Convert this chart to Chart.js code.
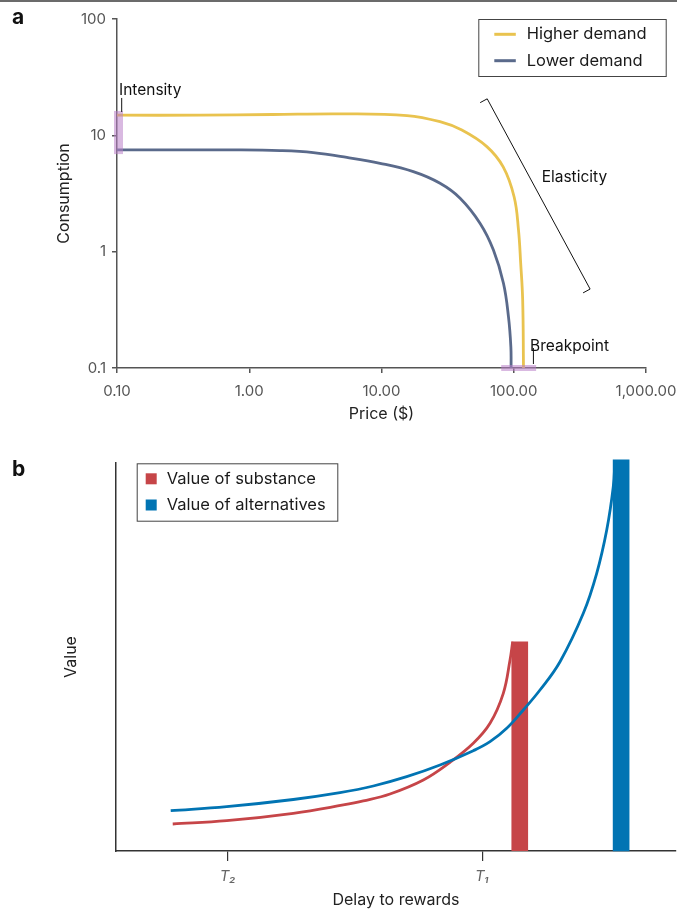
<!DOCTYPE html>
<html>
<head>
<meta charset="utf-8">
<script src="https://cdn.jsdelivr.net/npm/chart.js@4.4.1/dist/chart.umd.min.js"></script>
<style>
  body { margin: 0; background: #fff; }
  #fig { position: relative; width: 677px; height: 910px; overflow: hidden; font-family: Inter, 'Noto Sans', sans-serif; }
  #topRule { position: absolute; left: 0; top: 0; width: 677px; height: 2px; background: #6b6b6b; }
  .panel { position: absolute; left: 12px; font-size: 21px; font-weight: 700; line-height: 1; color: #111; }
  canvas { position: absolute; left: 0; }
</style>
</head>
<body>
<div id="fig">
  <div id="topRule"></div>
  <canvas id="demandChart" width="677" height="430" style="top:0"></canvas>
  <canvas id="delayChart" width="677" height="480" style="top:430px"></canvas>
  <div class="panel" style="top:6px">a</div>
  <div class="panel" style="top:458px">b</div>
</div>
<script>
// ---- panel a : demand curves (log price vs log consumption) ----
const priceHigh = [0.1, 0.43, 1.5, 4.9, 15.6, 27.7, 40.5, 62.6, 83.2, 100.7, 108.6, 112.8, 116.8, 118.5];
const consHigh  = [14.9, 14.9, 15.1, 15.3, 14.8, 13.1, 11.1, 8.0, 5.35, 2.95, 1.54, 0.80, 0.385, 0.1];
const priceLow  = [0.1, 0.85, 1.71, 3.05, 5.47, 9.75, 17.4, 27.7, 39.3, 55.7, 70.2, 83.6, 91.2, 95.1, 95.5];
const consLow   = [7.49, 7.49, 7.39, 7.10, 6.46, 5.75, 4.87, 3.87, 2.88, 1.75, 1.035, 0.535, 0.276, 0.152, 0.1];

const priceTicks = [0.1, 1, 10, 100, 1000];
const priceTickLabels = ['0.10', '1.00', '10.00', '100.00', '1,000.00'];
const consTicks = [0.1, 1, 10, 100];
const consTickLabels = ['0.1', '1', '10', '100'];

// annotation anchors, in data units
const intensityBand = [6.9, 16.2];      // consumption range at the lowest price
const breakpointBand = [80.4, 147.6];   // price range at the lowest consumption
const elasticityPrice = [63, 378];
const elasticityCons = [20.6, 0.477];

// ---- panel b : discounted value vs delay ----
const delayAlt  = [9.77, 19.77, 31.66, 40.0, 45.95, 51.91, 57.86, 63.80, 66.79, 69.77, 72.73, 75.71, 79.29, 83.45, 85.84, 87.63, 88.80, 89.11];
const valueAlt  = [10.39, 11.42, 13.27, 15.03, 16.75, 19.15, 22.16, 25.85, 28.17, 31.62, 36.34, 41.49, 48.79, 61.26, 71.57, 82.73, 93.89, 100.77];
const delaySub  = [10.13, 19.77, 31.66, 40.59, 44.16, 48.93, 54.88, 59.64, 63.80, 66.79, 69.16, 70.36, 70.84];
const valueSub  = [6.96, 7.81, 9.72, 11.86, 12.89, 14.69, 18.30, 22.86, 27.76, 32.91, 40.64, 49.23, 53.94];
const rewardDelay = [72.1, 90.2];   // substance, alternatives
const rewardValue = [53.9, 100.8];
const delayTicks = [20.0, 65.4];
const delayTickLabels = ['T\u2082', 'T\u2081'];

const YELLOW = '#E9C34F';
const SLATE = '#5A6A8B';
const RED = '#C64548';
const BLUE = '#0174B3';
const FONT = "Inter, 'Noto Sans', sans-serif";

Chart.defaults.font.family = FONT;
Chart.defaults.animation = false;

const zip = (xs, ys) => xs.map((x, i) => ({ x, y: ys[i] }));

function noPad(scale) {
  scale.paddingLeft = scale.paddingRight = scale.paddingTop = scale.paddingBottom = 0;
}

function drawLegend(ctx, box, rows) {
  ctx.save();
  ctx.fillStyle = '#fff';
  ctx.fillRect(box.left, box.top, box.width, box.height);
  ctx.strokeStyle = '#444';
  ctx.lineWidth = 1;
  ctx.strokeRect(box.left + 0.5, box.top + 0.5, box.width, box.height);
  ctx.font = '16.5px ' + FONT;
  ctx.textBaseline = 'middle';
  rows.forEach(r => {
    if (r.kind === 'line') {
      ctx.strokeStyle = r.color;
      ctx.lineWidth = 3;
      ctx.beginPath();
      ctx.moveTo(box.left + 16, r.y);
      ctx.lineTo(box.left + 37.5, r.y);
      ctx.stroke();
    } else {
      ctx.fillStyle = r.color;
      ctx.fillRect(box.left + 9, r.y - 5.5, 11, 11);
    }
    ctx.fillStyle = '#1a1a1a';
    ctx.fillText(r.label, box.left + r.textX, r.y);
  });
  ctx.restore();
}

const demandNotes = {
  id: 'demandNotes',
  afterDraw(chart) {
    const { ctx, chartArea, scales: { x, y } } = chart;
    ctx.save();
    ctx.fillStyle = 'rgba(186,128,200,0.55)';
    const ix = x.getPixelForValue(priceTicks[0]);
    const iTop = y.getPixelForValue(intensityBand[1]);
    const iBot = y.getPixelForValue(intensityBand[0]);
    ctx.fillRect(ix - 3, iTop, 9, iBot - iTop);
    const by = y.getPixelForValue(consTicks[0]);
    const bL = x.getPixelForValue(breakpointBand[0]);
    const bR = x.getPixelForValue(breakpointBand[1]);
    ctx.fillRect(bL, by - 3, bR - bL, 6);

    ctx.strokeStyle = '#111';
    ctx.lineWidth = 1;
    ctx.beginPath();
    ctx.moveTo(ix + 4.7, iTop + 1); ctx.lineTo(ix + 4.7, iTop - 13);
    ctx.moveTo(bR - 2.7, by - 4); ctx.lineTo(bR - 2.7, by - 20);
    ctx.stroke();

    // elasticity bracket
    const x1 = x.getPixelForValue(elasticityPrice[0]), y1 = y.getPixelForValue(elasticityCons[0]);
    const x2 = x.getPixelForValue(elasticityPrice[1]), y2 = y.getPixelForValue(elasticityCons[1]);
    const len = Math.hypot(x2 - x1, y2 - y1);
    const nx = -(y2 - y1) / len * 8, ny = (x2 - x1) / len * 8;
    ctx.beginPath();
    ctx.moveTo(x1 + nx, y1 + ny); ctx.lineTo(x1, y1); ctx.lineTo(x2, y2); ctx.lineTo(x2 + nx, y2 + ny);
    ctx.stroke();

    ctx.fillStyle = '#111';
    ctx.font = '15.5px ' + FONT;
    ctx.textBaseline = 'middle';
    ctx.textAlign = 'left';
    ctx.fillText('Intensity', ix + 2, iTop - 21);
    ctx.fillText('Breakpoint', bR - 6, by - 22);
    ctx.fillText('Elasticity', (x1 + x2) / 2 + 3, (y1 + y2) / 2 - 17);
    ctx.restore();

    drawLegend(ctx, { left: chartArea.right - 167.7, top: chartArea.top, width: 187.4, height: 57 }, [
      { kind: 'line', color: chart.data.datasets[0].borderColor, label: chart.data.datasets[0].label, y: chartArea.top + 15.3, textX: 48.4 },
      { kind: 'line', color: chart.data.datasets[1].borderColor, label: chart.data.datasets[1].label, y: chartArea.top + 41.7, textX: 48.4 }
    ]);
  }
};

new Chart(document.getElementById('demandChart'), {
  type: 'line',
  data: {
    datasets: [
      { label: 'Higher demand', data: zip(priceHigh, consHigh), borderColor: YELLOW, borderWidth: 2.8, pointRadius: 0, tension: 0.4 },
      { label: 'Lower demand', data: zip(priceLow, consLow), borderColor: SLATE, borderWidth: 2.8, pointRadius: 0, tension: 0.4 }
    ]
  },
  options: {
    responsive: false,
    devicePixelRatio: 1,
    layout: { padding: { top: 19, right: 31, bottom: 0, left: 0 } },
    plugins: { legend: { display: false }, tooltip: { enabled: false } },
    scales: {
      x: {
        type: 'logarithmic', min: 0.1, max: 1000,
        afterBuildTicks: s => { s.ticks = priceTicks.map(v => ({ value: v })); },
        afterFit: s => { s.height = 62; noPad(s); },
        ticks: { callback: (v, i) => priceTickLabels[i], autoSkip: false, maxRotation: 0, padding: 9, color: '#555', font: { size: 15 } },
        grid: { drawOnChartArea: false, tickLength: 5, color: '#555', lineWidth: 1.5 },
        border: { color: '#555', width: 1.5 },
        title: { display: true, text: 'Price ($)', color: '#222', font: { size: 16 }, padding: { top: 0, bottom: 6.4 } }
      },
      y: {
        type: 'logarithmic', min: 0.1, max: 100,
        afterBuildTicks: s => { s.ticks = consTicks.map(v => ({ value: v })); },
        afterFit: s => { s.width = 117; noPad(s); },
        ticks: { callback: (v, i) => consTickLabels[i], autoSkip: false, padding: 6, color: '#555', font: { size: 15 } },
        grid: { drawOnChartArea: false, tickLength: 5, color: '#555', lineWidth: 1.5 },
        border: { color: '#555', width: 1.5 },
        title: { display: true, text: 'Consumption', color: '#222', font: { size: 16 }, padding: { top: 54.4, bottom: 0 } }
      }
    }
  },
  plugins: [demandNotes]
});

const delayLegend = {
  id: 'delayLegend',
  afterDraw(chart) {
    const { ctx, chartArea } = chart;
    const ds = chart.data.datasets;
    drawLegend(ctx, { left: chartArea.left + 20.7, top: chartArea.top + 0.3, width: 200.6, height: 57.4 }, [
      { kind: 'box', color: ds[2].backgroundColor, label: ds[2].label, y: chartArea.top + 15.8, textX: 30 },
      { kind: 'box', color: ds[3].backgroundColor, label: ds[3].label, y: chartArea.top + 42, textX: 30 }
    ]);
  }
};

new Chart(document.getElementById('delayChart'), {
  type: 'bar',
  data: {
    datasets: [
      { type: 'line', data: zip(delayAlt, valueAlt), borderColor: BLUE, borderWidth: 2.8, pointRadius: 0, tension: 0.4, clip: false, order: 0 },
      { type: 'line', data: zip(delaySub, valueSub), borderColor: RED, borderWidth: 2.8, pointRadius: 0, tension: 0.4, clip: false, order: 1 },
      { label: 'Value of substance', data: [{ x: rewardDelay[0], y: rewardValue[0] }], backgroundColor: RED, barThickness: 16, grouped: false, order: 2 },
      { label: 'Value of alternatives', data: [{ x: rewardDelay[1], y: rewardValue[1] }], backgroundColor: BLUE, barThickness: 16, grouped: false, clip: false, order: 2 }
    ]
  },
  options: {
    responsive: false,
    devicePixelRatio: 1,
    layout: { padding: { top: 33, right: 1, bottom: 0, left: 0 } },
    plugins: { legend: { display: false }, tooltip: { enabled: false } },
    scales: {
      x: {
        type: 'linear', min: 0, max: 100, offset: false,
        afterBuildTicks: s => { s.ticks = delayTicks.map(v => ({ value: v })); },
        afterFit: s => { s.height = 59; noPad(s); },
        ticks: { callback: (v, i) => delayTickLabels[i], autoSkip: false, maxRotation: 0, padding: 6, color: '#666', font: { size: 15, style: 'italic' } },
        grid: { drawOnChartArea: false, offset: false, tickLength: 10, color: '#333', lineWidth: 1.2 },
        border: { color: '#333', width: 1.5 },
        title: { display: true, text: 'Delay to rewards', color: '#222', font: { size: 16 }, padding: { top: 0, bottom: 0.4 } }
      },
      y: {
        min: 0, max: 100,
        afterFit: s => { s.width = 116; noPad(s); },
        ticks: { display: false },
        grid: { display: false },
        border: { color: '#333', width: 1.5 },
        title: { display: true, text: 'Value', color: '#222', font: { size: 16 }, padding: { top: 61.4, bottom: 0 } }
      }
    }
  },
  plugins: [delayLegend]
});
</script>
</body>
</html>
